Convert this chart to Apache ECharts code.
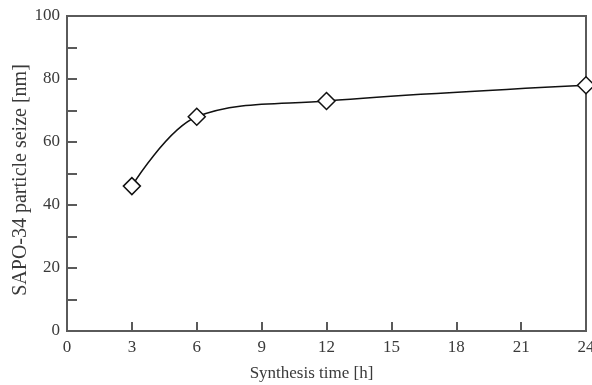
<!DOCTYPE html>
<html>
<head>
<meta charset="utf-8">
<script src="https://cdn.jsdelivr.net/npm/echarts@6/dist/echarts.min.js"></script>
<style>
  html, body { margin: 0; padding: 0; background: #fff; }
  #chart { width: 592px; height: 385px; }
</style>
</head>
<body>
<div id="chart"></div>
<script>
const hours = [3, 6, 12, 24]
const particleSize = [46, 68, 73, 78]

const chart = echarts.init(document.getElementById('chart'))
const axisColor = '#5a5a5a'
const textColor = '#3a3a3a'
const font = 'Liberation Serif'

const option = {
  backgroundColor: '#fff',
  grid: {
    left: 67, right: 6, top: 16, bottom: 54,
    outerBoundsMode: 'none',
    show: true, borderColor: axisColor, borderWidth: 2
  },
  xAxis: {
    type: 'value',
    min: 0,
    max: 24,
    interval: 3,
    name: 'Synthesis time [h]',
    nameLocation: 'middle',
    nameGap: 34,
    nameTextStyle: { color: textColor, fontFamily: font, fontSize: 17, padding: [0, 30, 0, 0] },
    axisLine: { lineStyle: { color: axisColor, width: 2 } },
    axisTick: { inside: true, length: 9, lineStyle: { color: axisColor, width: 2 } },
    axisLabel: { color: textColor, fontFamily: font, fontSize: 17, margin: 8 },
    splitLine: { show: false }
  },
  yAxis: {
    type: 'value',
    min: 0,
    max: 100,
    interval: 20,
    name: 'SAPO-34 particle seize [nm]',
    nameLocation: 'middle',
    nameMoveOverlap: false,
    nameGap: 36,
    nameTextStyle: { color: textColor, fontFamily: font, fontSize: 20, padding: [0, 13, 0, 0] },
    axisLine: { lineStyle: { color: axisColor, width: 2 } },
    axisTick: { inside: true, length: 10, lineStyle: { color: axisColor, width: 2 } },
    minorTick: { show: true, splitNumber: 2, length: 10, lineStyle: { color: axisColor, width: 2 } },
    axisLabel: { color: textColor, fontFamily: font, fontSize: 17, margin: 7 },
    splitLine: { show: false }
  },
  series: [
    {
      type: 'line',
      data: hours.map((h, i) => [h, particleSize[i]]),
      smooth: 0.35,
      symbol: 'diamond',
      symbolSize: [17, 17],
      itemStyle: { color: '#fff', borderColor: '#111', borderWidth: 1.5 },
      lineStyle: { color: '#111', width: 1.5 },
      z: 3
    }
  ]
}
chart.setOption(option)
</script>
</body>
</html>
